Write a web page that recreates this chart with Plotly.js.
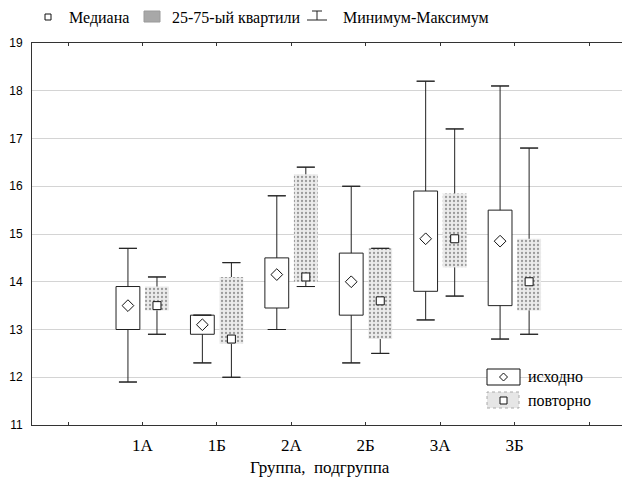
<!DOCTYPE html>
<html><head><meta charset="utf-8">
<script src="https://cdn.plot.ly/plotly-3.0.1.min.js"></script>
<style>html,body{margin:0;padding:0;background:#fff}#chart{width:622px;height:481px}</style>
</head><body><div id="chart"></div>
<script>
// ---- data ----
const categories = ['1А', '1Б', '2А', '2Б', '3А', '3Б'];
const seriesNames = ['исходно', 'повторно'];
// исходно
const minA = [11.9, 12.3, 13.0, 12.3, 13.2, 12.8];
const q1A  = [13.0, 12.9, 13.45, 13.3, 13.8, 13.5];
const medA = [13.5, 13.1, 14.15, 14.0, 14.9, 14.85];
const q3A  = [13.9, 13.3, 14.5, 14.6, 15.9, 15.5];
const maxA = [14.7, 13.3, 15.8, 16.0, 18.2, 18.1];
// повторно
const minB = [12.9, 12.0, 13.9, 12.5, 13.7, 12.9];
const q1B  = [13.4, 12.7, 14.0, 12.8, 14.3, 13.4];
const medB = [13.5, 12.8, 14.1, 13.6, 14.9, 14.0];
const q3B  = [13.9, 14.1, 16.25, 14.7, 15.85, 14.9];
const maxB = [14.1, 14.4, 16.4, 14.7, 17.2, 16.8];

const legendTop = ['Медиана', '25-75-ый квартили', 'Минимум-Максимум'];
const xTitle = 'Группа,&nbsp; подгруппа';

// ---- geometry ----
const W = 622, H = 481, L = 32, R = 0, T = 43, B = 56;
const pw = W - L - R, ph = H - T - B;
const px = x => (x - L) / pw;
const py = y => (H - B - y) / ph;

const pos = categories.map((c, i) => i + 1);
const off = 0.195, bw = 0.32;
const xa = pos.map(p => p - off), xb = pos.map(p => p + off);
const sub = (a, b) => a.map((v, i) => v - b[i]);
const zeros = categories.map(() => 0);

const dark = '#222';
const serif = 'Liberation Serif, Times New Roman, serif';

function series(x, q1, med, q3, mn, mx, isGrey) {
  const out = [];
  const bar = {
    type: 'bar', x: x, base: q1, y: sub(q3, q1), width: bw,
    showlegend: false, hoverinfo: 'skip'
  };
  if (isGrey) {
    bar.marker = { color: '#e6e6e6', line: { width: 0 },
      pattern: { shape: '.', fgcolor: '#9a9a9a', bgcolor: '#ebebeb', size: 4, solidity: 0.25 } };
  } else {
    bar.marker = { color: '#ffffff', line: { color: dark, width: 1 } };
  }
  out.push(bar);
  // whisker lines
  out.push({
    type: 'scatter', mode: 'markers', x: x.concat(x), y: q3.concat(q1),
    marker: { size: 1, opacity: 0 }, showlegend: false, hoverinfo: 'skip',
    error_y: { type: 'data', symmetric: false,
      array: sub(mx, q3).concat(zeros), arrayminus: zeros.concat(sub(q1, mn)),
      width: 0, thickness: 1, color: dark }
  });
  // caps
  out.push({
    type: 'scatter', mode: 'markers', x: x.concat(x), y: mx.concat(mn),
    marker: { size: 1, opacity: 0 }, showlegend: false, hoverinfo: 'skip',
    error_y: { type: 'data', symmetric: false, array: zeros.concat(zeros),
      arrayminus: zeros.concat(zeros), width: 9, thickness: 1, color: dark }
  });
  // median marker
  out.push({
    type: 'scatter', mode: 'markers', x: x, y: med, showlegend: false,
    marker: isGrey
      ? { symbol: 'square', size: 8, color: '#ffffff', line: { color: '#111', width: 1 } }
      : { symbol: 'diamond', size: 9, color: '#ffffff', line: { color: '#111', width: 1 } }
  });
  return out;
}

const data = [].concat(
  series(xa, q1A, medA, q3A, minA, maxA, false),
  series(xb, q1B, medB, q3B, minB, maxB, true)
);

const tickvals = [0].concat(pos, [categories.length + 1]);
const ticktext = [''].concat(categories, ['']);

// ---- legends (paper coords) ----
const shapes = [];
const annotations = [];
function rect(x0, y0, x1, y1, fill, line, dash) {
  shapes.push({ type: 'rect', xref: 'paper', yref: 'paper',
    x0: px(x0), x1: px(x1), y0: py(y1), y1: py(y0),
    fillcolor: fill, line: { color: line, width: line ? 1 : 0, dash: dash || 'solid' } });
}
function seg(x0, y0, x1, y1, c) {
  shapes.push({ type: 'line', xref: 'paper', yref: 'paper',
    x0: px(x0), x1: px(x1), y0: py(y0), y1: py(y1), line: { color: c || dark, width: 1 } });
}
function diamond(cx, cy, r) {
  shapes.push({ type: 'path', xref: 'paper', yref: 'paper',
    path: `M${px(cx - r)},${py(cy)} L${px(cx)},${py(cy - r)} L${px(cx + r)},${py(cy)} L${px(cx)},${py(cy + r)} Z`,
    fillcolor: '#fff', line: { color: '#111', width: 1 } });
}
function text(t, x, y, anchor, size) {
  annotations.push({ text: t, xref: 'paper', yref: 'paper', x: px(x), y: py(y),
    xanchor: anchor || 'left', yanchor: 'middle', showarrow: false,
    font: { family: serif, size: size || 16, color: '#000' } });
}
// top legend
rect(45, 14, 51, 20, '#fff', '#111');
text(legendTop[0], 67, 18, 'left', 16);
rect(144, 11, 160, 22, '#a8a8a8', '#9a9a9a');
text(legendTop[1], 170, 18, 'left', 16);
seg(312, 11, 322, 11);
seg(317, 11, 317, 20);
seg(307, 20, 327, 20);
text(legendTop[2], 341, 18, 'left', 16);
// bottom-right legend
rect(487, 369, 520, 385, '#fff', '#111');
diamond(503.5, 377, 4);
text(seriesNames[0], 526, 377, 'left', 16);
rect(487, 392, 519, 408, '#e6e6e6', '#aaa', 'dot');
rect(500, 397, 507, 404, '#fff', '#111');
text(seriesNames[1], 526, 401, 'left', 16);
// x title
text(xTitle, 320, 468, 'center', 17);

const layout = {
  width: W, height: H,
  margin: { l: L, r: R, t: T, b: B, pad: 0 },
  paper_bgcolor: '#fff', plot_bgcolor: '#fff',
  barmode: 'overlay', showlegend: false,
  xaxis: {
    range: [-0.484, 7.443], tickmode: 'array', tickvals: tickvals, ticktext: ticktext,
    ticks: 'inside', ticklen: 3, tickcolor: '#333', tickwidth: 1,
    showline: true, linecolor: '#333', linewidth: 1, mirror: 'ticks',
    showgrid: false, zeroline: false, ticklabelstandoff: 5,
    tickfont: { family: serif, size: 17, color: '#000' }
  },
  yaxis: {
    range: [11, 19], tickmode: 'linear', tick0: 11, dtick: 1,
    showgrid: true, gridcolor: '#d4d4d4', gridwidth: 1,
    showline: true, linecolor: '#333', linewidth: 1, ticks: '',
    zeroline: false, ticklabelstandoff: 6,
    tickfont: { family: 'Liberation Sans, Arial, sans-serif', size: 12, color: '#000' }
  },
  shapes: shapes, annotations: annotations
};

Plotly.newPlot('chart', data, layout, { displayModeBar: false, staticPlot: true });
</script>
</body></html>
